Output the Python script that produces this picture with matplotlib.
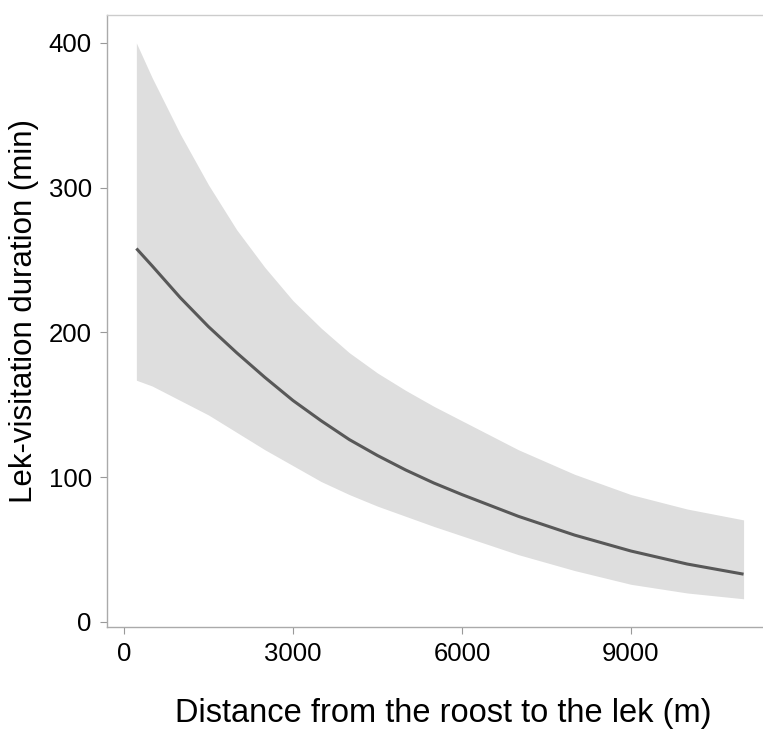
import numpy as np
import matplotlib
matplotlib.use("Agg")
import matplotlib.pyplot as plt

plt.rcParams['font.family'] = ['Liberation Sans', 'DejaVu Sans']

# Відстань від ночівлі до току (м) та оцінки моделі
distance = [220, 500, 1000, 1500, 2000, 2500, 3000, 3500, 4000, 4500,
            5000, 5500, 6000, 7000, 8000, 9000, 10000, 11000]
fit = [258, 246, 224, 204, 186, 169, 153, 139, 126, 115,
       105, 96, 88, 73, 60, 49, 40, 33]
upper = [400, 376, 337, 302, 271, 245, 222, 203, 186, 172,
         160, 149, 139, 119, 102, 88, 78, 70.5]
lower = [167, 163, 153, 143, 131, 119, 108, 97, 88, 80,
         73, 66, 59.5, 46.5, 35.5, 26, 20, 16]

x_ticks = [0, 3000, 6000, 9000]
y_ticks = [0, 100, 200, 300, 400]

fig = plt.figure(figsize=(7.63, 7.33), dpi=100)
ax = fig.add_axes([0.1402, 0.1446, 0.8807, 0.8349])

ax.fill_between(distance, lower, upper, color="#dedede", linewidth=0)
ax.plot(distance, fit, color="#585858", linewidth=2.2, solid_capstyle="butt")

ax.set_xlim(-302, 11628)
ax.set_ylim(-3.5, 419.3)
ax.set_xticks(x_ticks)
ax.set_yticks(y_ticks)
ax.tick_params(axis="both", labelsize=18.5, length=5, width=0.8, color="#999999", pad=6)

for side in ["left", "bottom"]:
    ax.spines[side].set_color("#aaaaaa")
    ax.spines[side].set_linewidth(1.0)
ax.spines["top"].set_color("#cccccc")
ax.spines["top"].set_linewidth(1.0)
ax.spines["right"].set_visible(False)

ax.set_xlabel("Distance from the roost to the lek (m)", fontsize=23.5, labelpad=23)
ax.set_ylabel("Lek-visitation duration (min)", fontsize=22.5)
ax.yaxis.set_label_coords(-0.101, 0.516)

fig.savefig("out.png", dpi=100)
